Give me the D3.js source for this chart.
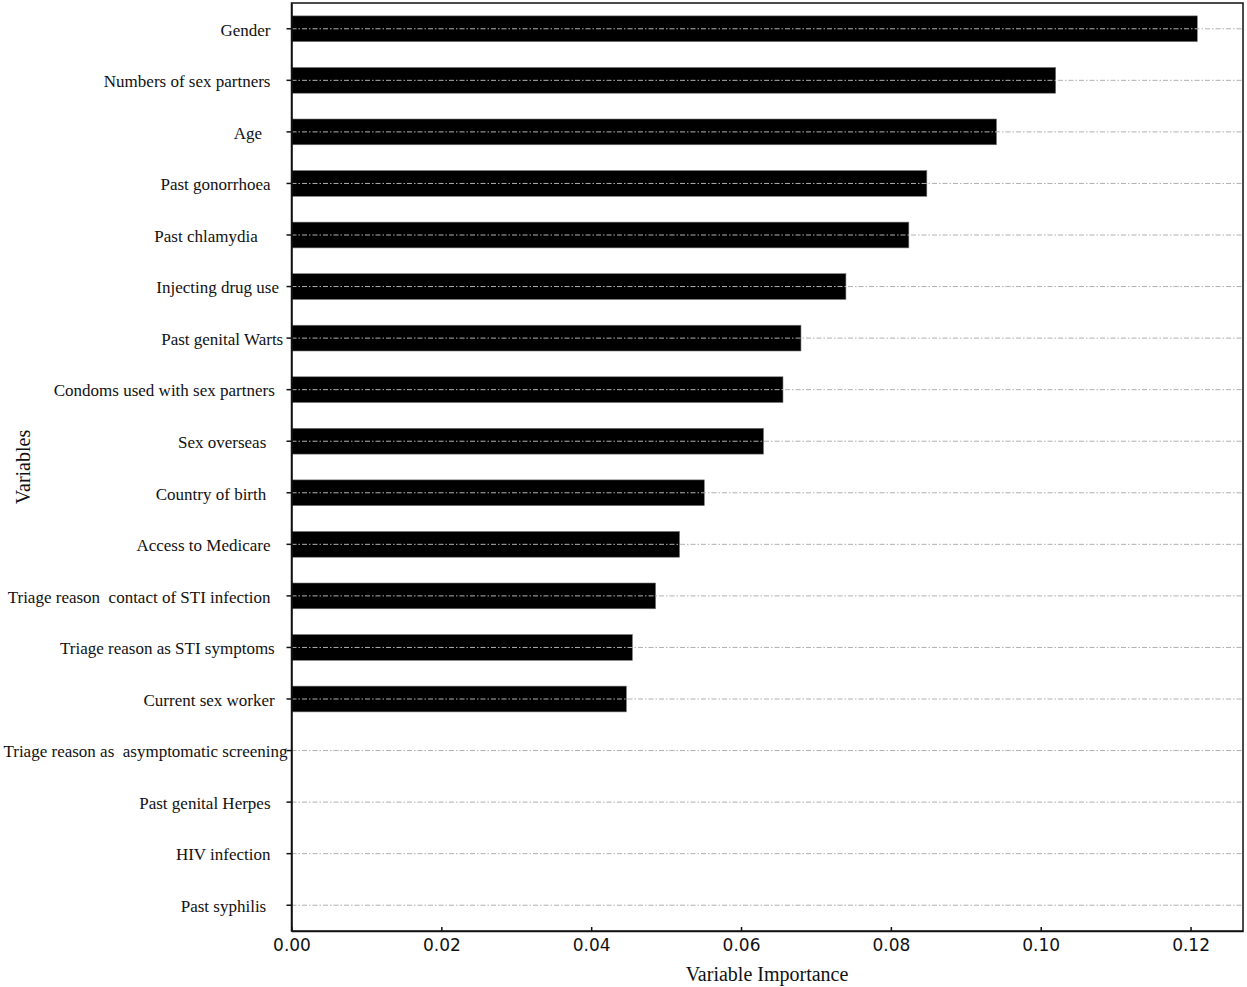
<!DOCTYPE html>
<html>
<head>
<meta charset="utf-8">
<script src="https://cdn.jsdelivr.net/npm/d3@7"></script>
<style>
  body { margin: 0; background: #fff; }
  .ylab text { white-space: pre; }
</style>
</head>
<body>
<svg width="1247" height="987"></svg>
<script>
// variables as in the figure (trailing spaces kept, they shift the labels)
var variables = [
  "Gender    ",
  "Numbers of sex partners    ",
  "Age      ",
  "Past gonorrhoea    ",
  "Past chlamydia       ",
  "Injecting drug use  ",
  "Past genital Warts ",
  "Condoms used with sex partners   ",
  "Sex overseas     ",
  "Country of birth     ",
  "Access to Medicare    ",
  "Triage reason  contact of STI infection    ",
  "Triage reason as STI symptoms   ",
  "Current sex worker   ",
  "Triage reason as  asymptomatic screening",
  "Past genital Herpes    ",
  "HIV infection    ",
  "Past syphilis     "
];
var importance = [0.1209, 0.1020, 0.0941, 0.0848, 0.0824, 0.0740, 0.0680, 0.0656, 0.0630,
                  0.0551, 0.0518, 0.0486, 0.0455, 0.0447, 0, 0, 0, 0];
var xTicks = [0, 0.02, 0.04, 0.06, 0.08, 0.10, 0.12];

// plot box ("top" is taken by window.top, so use other names)
var plotL = 291.5, plotR = 1243, plotT = 3, plotB = 931;

var svg = d3.select("svg");

var x = d3.scaleLinear().domain([0, 0.127]).range([plotL, plotR]);
var y = d3.scaleBand().domain(variables).range([plotT, plotB])
    .paddingInner(0.5).paddingOuter(0.25);

var data = variables.map(function(v, i){ return {name: v, value: importance[i]}; });

// bars
svg.selectAll("rect.bar")
    .data(data)
    .enter()
    .append("rect")
    .attr("class", "bar")
    .attr("x", x(0))
    .attr("y", function(d){ return y(d.name); })
    .attr("width", function(d){ return x(d.value) - x(0); })
    .attr("height", y.bandwidth())
    .attr("fill", "#000")
    .attr("stroke", "#777")
    .attr("stroke-width", 0.6);

// dash-dot guide lines drawn over the bars
svg.selectAll("line.grid")
    .data(variables)
    .enter()
    .append("line")
    .attr("class", "grid")
    .attr("x1", plotL)
    .attr("x2", plotR)
    .attr("y1", function(d){ return y(d) + y.bandwidth() / 2; })
    .attr("y2", function(d){ return y(d) + y.bandwidth() / 2; })
    .attr("stroke", "#b0b0b0")
    .attr("stroke-width", 1)
    .attr("stroke-dasharray", "5,2,1.5,2");

// frame
svg.append("rect")
    .attr("x", plotL).attr("y", plotT)
    .attr("width", plotR - plotL).attr("height", plotB - plotT)
    .attr("fill", "none")
    .attr("stroke", "#111")
    .attr("stroke-width", 1.5);

// x axis, ticks pointing in
var xAxis = svg.append("g")
    .attr("transform", "translate(0," + plotB + ")")
    .call(d3.axisBottom(x).tickValues(xTicks).tickFormat(d3.format(".2f"))
        .tickSizeInner(-4).tickSizeOuter(0).tickPadding(8));
xAxis.select(".domain").attr("stroke", "#111").attr("stroke-width", 1.5);
xAxis.selectAll(".tick line").attr("stroke", "#111").attr("stroke-width", 1.5);
xAxis.selectAll("text")
    .attr("font-family", "'DejaVu Sans', sans-serif")
    .attr("font-size", 17)
    .attr("fill", "#111");

// y axis
var yAxis = svg.append("g")
    .attr("class", "ylab")
    .attr("transform", "translate(" + plotL + ",0)")
    .call(d3.axisLeft(y).tickSizeInner(5).tickSizeOuter(0).tickPadding(-1));
yAxis.select(".domain").attr("stroke", "#111").attr("stroke-width", 1.5);
yAxis.selectAll(".tick line").attr("stroke", "#111").attr("stroke-width", 1.5);
yAxis.selectAll("text")
    .attr("font-family", "'Liberation Serif', 'Times New Roman', serif")
    .attr("font-size", 17)
    .attr("dy", "0.4em")
    .attr("fill", "#111");

// titles
svg.append("text")
    .attr("x", 767)
    .attr("y", 981)
    .attr("text-anchor", "middle")
    .attr("font-family", "'Liberation Serif', 'Times New Roman', serif")
    .attr("font-size", 20)
    .attr("fill", "#111")
    .text("Variable Importance");

svg.append("text")
    .attr("transform", "translate(30,467) rotate(-90)")
    .attr("text-anchor", "middle")
    .attr("font-family", "'Liberation Serif', 'Times New Roman', serif")
    .attr("font-size", 20)
    .attr("fill", "#111")
    .text("Variables");
</script>
</body>
</html>
